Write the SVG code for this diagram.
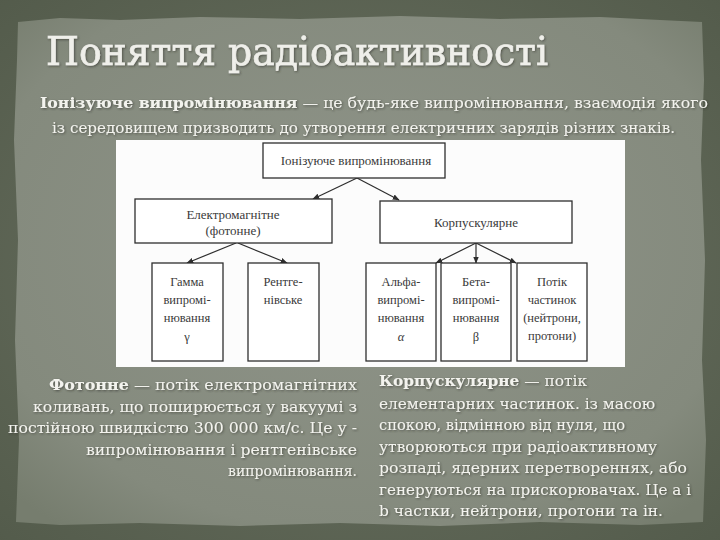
<svg xmlns="http://www.w3.org/2000/svg" width="720" height="540" viewBox="0 0 720 540">
<defs>
<radialGradient id="outerG" cx="50%" cy="50%" r="75%">
<stop offset="0" stop-color="#6d7464"/>
<stop offset="1" stop-color="#525a4a"/>
</radialGradient>
<radialGradient id="panelG" cx="50%" cy="45%" r="70%">
<stop offset="0" stop-color="#8f9489"/>
<stop offset="0.8" stop-color="#848a7d"/>
<stop offset="1" stop-color="#767d6e"/>
</radialGradient>
<marker id="ah" viewBox="0 0 10 10" refX="9" refY="5" markerWidth="7" markerHeight="7" orient="auto-start-reverse" markerUnits="userSpaceOnUse">
<path d="M0,1 L10,5 L0,9 z" fill="#2e2e2e"/>
</marker>
<filter id="sh" x="-5%" y="-20%" width="110%" height="140%">
<feDropShadow dx="1" dy="1" stdDeviation="0.8" flood-color="#2a2f25" flood-opacity="0.6"/>
</filter>
</defs>
<style>
.box{fill:#ffffff;stroke:#2f2f2f;stroke-width:1.3}
.dt{font-family:"Liberation Serif","Times New Roman",serif;font-size:13px;fill:#3a3a3a;text-anchor:middle}
.ds{font-family:"Liberation Serif","Times New Roman",serif;font-size:12.5px;fill:#3a3a3a;text-anchor:middle}
.con line{stroke:#2e2e2e;stroke-width:1.2;marker-end:url(#ah)}
.pt{font-family:"DejaVu Serif","Liberation Serif",serif;font-size:14.5px;fill:#f3f3ee}
.b{font-weight:bold}
</style>
<rect x="0" y="0" width="720" height="540" fill="url(#outerG)"/>
<path d="M18,22 L60,18 L120,20 L200,17 L300,19 L400,16 L500,19 L600,17 L660,20 L702,22 L704,80 L701,160 L705,260 L702,360 L706,440 L703,522 L640,525 L540,522 L440,526 L340,523 L240,526 L140,523 L60,525 L16,522 L19,440 L15,340 L18,240 L14,140 L17,60 Z" fill="url(#panelG)"/>
<g id="title" filter="url(#sh)">
<text x="46" y="65" font-family="DejaVu Serif, Liberation Serif, serif" font-size="40" fill="#efefea" stroke="#efefea" stroke-width="0.7" textLength="502" lengthAdjust="spacingAndGlyphs">Поняття радіоактивності</text>
</g>
<g id="intro" filter="url(#sh)">
<text class="pt" x="40" y="108" textLength="668" lengthAdjust="spacingAndGlyphs"><tspan class="b">Іонізуюче випромінювання</tspan> — це будь-яке випромінювання, взаємодія якого</text>
<text class="pt" x="52" y="133" textLength="623" lengthAdjust="spacingAndGlyphs">із середовищем призводить до утворення електричних зарядів різних знаків.</text>
</g>
<rect id="panel" x="116" y="140" width="509" height="227" fill="#fcfcfc"/>
<g class="con" id="connectors">
<line x1="357" y1="178" x2="313" y2="199"/>
<line x1="357" y1="178" x2="399" y2="200"/>
<line x1="236" y1="243" x2="187" y2="263"/>
<line x1="238" y1="243" x2="287" y2="263"/>
<line x1="476" y1="243" x2="436" y2="263"/>
<line x1="476" y1="243" x2="476" y2="263"/>
<line x1="476" y1="243" x2="516" y2="263"/>
</g>
<g id="n-root"><rect class="box" x="263" y="143" width="182" height="35"/><text class="dt" x="356" y="165">Іонізуюче випромінювання</text></g>
<g id="n-em"><rect class="box" x="135" y="199" width="197" height="44"/><text class="dt" x="233" y="219">Електромагнітне</text><text class="dt" x="233" y="235">(фотонне)</text></g>
<g id="n-corp"><rect class="box" x="380" y="201" width="192" height="42"/><text class="dt" x="476" y="227">Корпускулярне</text></g>
<g id="n-gamma"><rect class="box" x="152" y="263" width="71" height="98"/><text class="ds" x="187" y="286">Гамма</text><text class="ds" x="187" y="304">випромі-</text><text class="ds" x="187" y="322">нювання</text><text class="ds" x="187" y="341">γ</text></g>
<g id="n-xray"><rect class="box" x="248" y="263" width="71" height="98"/><text class="ds" x="283" y="286">Рентге-</text><text class="ds" x="283" y="304">нівське</text></g>
<g id="n-alpha"><rect class="box" x="366" y="263" width="70" height="98"/><text class="ds" x="401" y="286">Альфа-</text><text class="ds" x="401" y="304">випромі-</text><text class="ds" x="401" y="322">нювання</text><text class="ds" x="401" y="341" font-style="italic">α</text></g>
<g id="n-beta"><rect class="box" x="441" y="263" width="70" height="98"/><text class="ds" x="476" y="286">Бета-</text><text class="ds" x="476" y="304">випромі-</text><text class="ds" x="476" y="322">нювання</text><text class="ds" x="476" y="341">β</text></g>
<g id="n-flux"><rect class="box" x="517" y="263" width="70" height="98"/><text class="ds" x="552" y="286">Потік</text><text class="ds" x="552" y="304">частинок</text><text class="ds" x="552" y="322">(нейтрони,</text><text class="ds" x="552" y="340">протони)</text></g>
<g id="photon-text" filter="url(#sh)" text-anchor="end">
<text class="pt" x="357" y="390" textLength="308" lengthAdjust="spacingAndGlyphs"><tspan class="b">Фотонне</tspan> — потік електромагнітних</text>
<text class="pt" x="357" y="412" textLength="324" lengthAdjust="spacingAndGlyphs">коливань, що поширюється у вакуумі з</text>
<text class="pt" x="357" y="433" textLength="349" lengthAdjust="spacingAndGlyphs">постійною швидкістю 300 000 км/с. Це у -</text>
<text class="pt" x="357" y="455" textLength="271" lengthAdjust="spacingAndGlyphs">випромінювання і рентгенівське</text>
<text class="pt" x="357" y="476" textLength="129" lengthAdjust="spacingAndGlyphs">випромінювання.</text>
</g>
<g id="corp-text" filter="url(#sh)">
<text class="pt" x="379" y="386" textLength="208" lengthAdjust="spacingAndGlyphs"><tspan class="b">Корпускулярне</tspan> — потік</text>
<text class="pt" x="379" y="409" textLength="276" lengthAdjust="spacingAndGlyphs">елементарних частинок. із масою</text>
<text class="pt" x="379" y="430" textLength="246" lengthAdjust="spacingAndGlyphs">спокою, відмінною від нуля, що</text>
<text class="pt" x="379" y="452" textLength="278" lengthAdjust="spacingAndGlyphs">утворюються при радіоактивному</text>
<text class="pt" x="379" y="473" textLength="308" lengthAdjust="spacingAndGlyphs">розпаді, ядерних перетвореннях, або</text>
<text class="pt" x="379" y="495" textLength="312" lengthAdjust="spacingAndGlyphs">генеруються на прискорювачах. Це а і</text>
<text class="pt" x="379" y="516" textLength="284" lengthAdjust="spacingAndGlyphs">b частки, нейтрони, протони та ін.</text>
</g>
</svg>
